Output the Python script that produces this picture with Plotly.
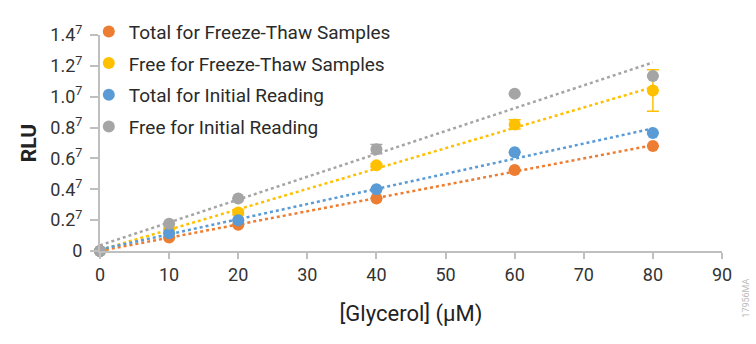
import numpy as np
import plotly.graph_objects as go

x_vals = [0, 10, 20, 40, 60, 80]
names = ["Total for Freeze-Thaw Samples", "Free for Freeze-Thaw Samples",
         "Total for Initial Reading", "Free for Initial Reading"]
total_ft = [0.0, 0.088, 0.17, 0.34, 0.525, 0.68]
free_ft = [0.0, 0.145, 0.25, 0.555, 0.82, 1.04]
total_init = [0.0, 0.115, 0.2, 0.40, 0.64, 0.765]
free_init = [0.0, 0.177, 0.34, 0.66, 1.02, 1.135]
err_total_ft = [0, 0, 0, 0, 0, 0]
err_free_ft = [0, 0, 0.015, 0.01, 0.03, 0.135]
err_total_init = [0, 0, 0, 0, 0, 0]
err_free_init = [0, 0, 0, 0.03, 0, 0]
colors = ["#ED7D31", "#FFC000", "#5B9BD5", "#A5A5A5"]
y_tickvals = [0, 0.2, 0.4, 0.6, 0.8, 1.0, 1.2, 1.4]
y_ticktext = ["0", "0.2<sup>7</sup>", "0.4<sup>7</sup>", "0.6<sup>7</sup>", "0.8<sup>7</sup>",
              "1.0<sup>7</sup>", "1.2<sup>7</sup>", "1.4<sup>7</sup>"]
x_tickvals = [0, 10, 20, 30, 40, 50, 60, 70, 80, 90]

series = [total_ft, free_ft, total_init, free_init]
errs = [err_total_ft, err_free_ft, err_total_init, err_free_init]

tick_font = "Roboto"

fig = go.Figure()
xa = np.array(x_vals, dtype=float)
for ys, c in zip(series, colors):
    m, b = np.polyfit(xa, np.array(ys), 1)
    xl = np.array([0, 80.0])
    fig.add_trace(go.Scatter(x=xl, y=m * xl + b, mode="lines", showlegend=False,
                             line=dict(color=c, width=2.5, dash="dot"), hoverinfo="skip"))
for i, (name, ys, e, c) in enumerate(zip(names, series, errs, colors)):
    fig.add_trace(go.Scatter(
        x=x_vals, y=ys, mode="markers", name=name, legendgroup="g%d" % i,
        marker=dict(color=c, size=12),
        error_y=dict(type="data", array=e, color=c, thickness=1.5, width=6, visible=True),
        cliponaxis=False))

fig.update_layout(
    width=756, height=344,
    margin=dict(l=100, r=34, t=29, b=93),
    paper_bgcolor="white", plot_bgcolor="white",
    font=dict(family="Roboto", color="#404040"),
    showlegend=True,
    legend=dict(x=-0.018, y=1.104, xanchor="left", yanchor="top",
                font=dict(size=19, color="#2a2a2a"),
                bgcolor="rgba(0,0,0,0)", itemwidth=30, tracegroupgap=4,
                traceorder="grouped"),
    xaxis=dict(range=[0, 90], tickvals=x_tickvals, showgrid=False, zeroline=False,
               showline=True, linecolor="#BFBFBF", linewidth=2,
               ticks="outside", tickcolor="#BFBFBF", ticklen=6, tickwidth=2,
               tickfont=dict(size=18, color="#333333", family=tick_font),
               title=dict(text="[Glycerol] (µM)", font=dict(size=22, color="#222222"), standoff=22)),
    yaxis=dict(range=[0, 1.4], tickvals=y_tickvals, ticktext=y_ticktext, showgrid=False,
               zeroline=False, showline=True, linecolor="#BFBFBF", linewidth=2,
               ticks="outside", tickcolor="#BFBFBF", ticklen=8, tickwidth=2,
               ticklabelstandoff=4,
               tickfont=dict(size=18, color="#333333", family=tick_font),
               title=dict(text="<b>RLU</b>", font=dict(size=21, color="#222222"), standoff=8)),
)
fig.add_annotation(text="17956MA", xref="paper", yref="paper", x=(746 - 100) / 622,
                   y=(251 - 300) / 222, xanchor="center", yanchor="middle",
                   showarrow=False, textangle=-90, font=dict(size=9, color="#BBBBBB"))
fig.write_html("out.html")
